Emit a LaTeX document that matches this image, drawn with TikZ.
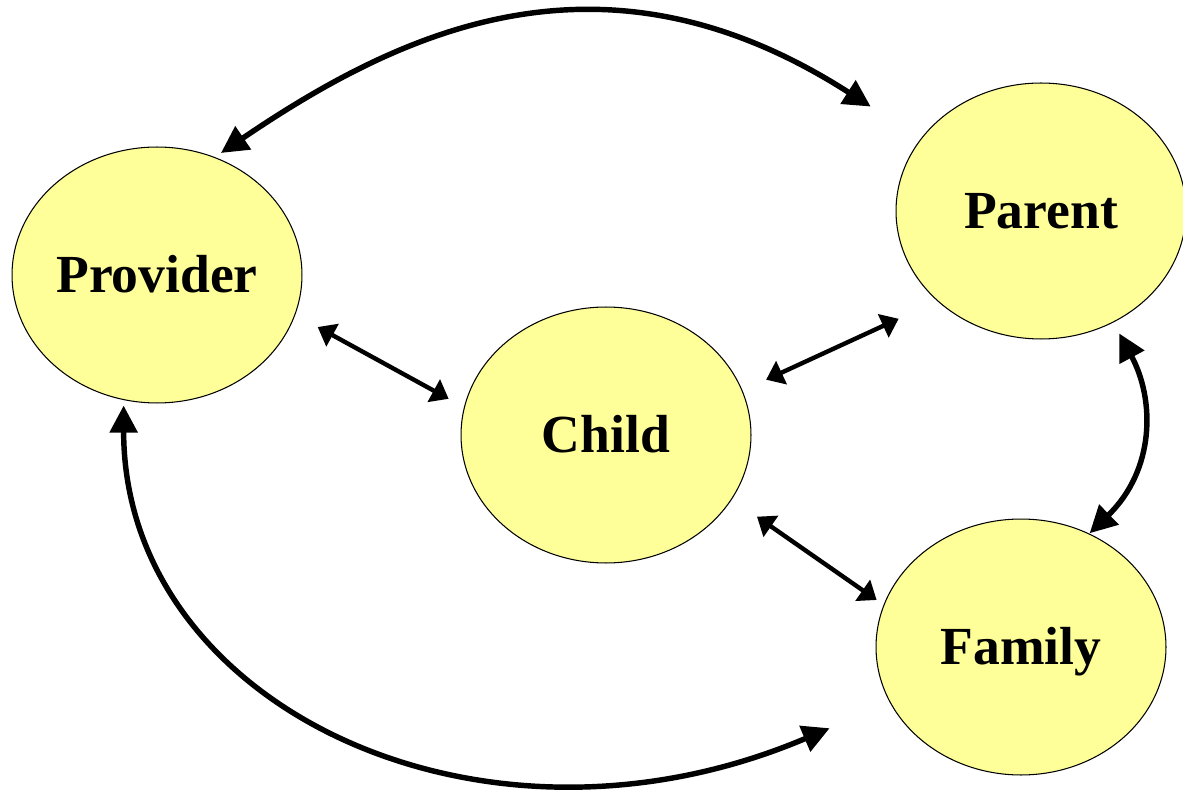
\documentclass[tikz,border=0pt]{standalone}
\usepackage{fontspec}
\setmainfont{Liberation Serif}
\usepackage{xcolor}
\usepackage{tikz}
\usetikzlibrary{shapes.geometric,arrows.meta}

\definecolor{paleyellow}{HTML}{FFFF99}

\begin{document}
\begin{tikzpicture}[x=0.02cm, y=-0.02cm,
    bubble/.style={ellipse, draw=black, line width=0.6pt, fill=paleyellow,
      minimum width=5.8cm, minimum height=5.12cm, inner sep=0pt, outer sep=0pt,
      font=\fontsize{30.5}{31}\selectfont\bfseries, text height=20pt, text depth=0pt},
    bigarrow/.style={line width=3.1pt, {Triangle[length=0.54cm,width=0.54cm]}-{Triangle[length=0.54cm,width=0.54cm]}},
    smallarrow/.style={line width=2.5pt, {Triangle[length=0.34cm,width=0.5cm]}-{Triangle[length=0.34cm,width=0.5cm]}}]

  % Fix the frame
  \useasboundingbox (0,0) rectangle (1183,790);

  % Draw the four bubbles
  \node[bubble] (provider) at (157,275) {Provider};
  \node[bubble] (parent) at (1041,211) {Parent};
  \node[bubble] (child) at (606,435) {Child};
  \node[bubble] (family) at (1021,647) {Family};

  % Draw the short arrows round the child
  \draw[smallarrow, shorten <=0.52cm, shorten >=0.36cm] (provider.-16) -- (child.169);
  \draw[smallarrow, shorten <=0.53cm, shorten >=0.86cm] (child.18) -- (parent.-139);
  \draw[smallarrow, shorten <=0.62cm, shorten >=0.18cm] (child.-27) -- (family.163);

  % Draw the long arcs on the outside
  \draw[bigarrow, shorten <=0.16cm, shorten >=1.2cm]
    (provider.64) .. controls +(190,-129) and +(-316,-203) .. (parent.149);
  \draw[bigarrow, shorten <=0.26cm, shorten >=0.02cm]
    (parent.-57) .. controls +(42,78) and +(66,-64) .. (family.59);
  \draw[bigarrow, shorten <=0.12cm, shorten >=1.32cm]
    (provider.-105) .. controls +(0,306) and +(-410,174) .. (family.203);

\end{tikzpicture}
\end{document}
